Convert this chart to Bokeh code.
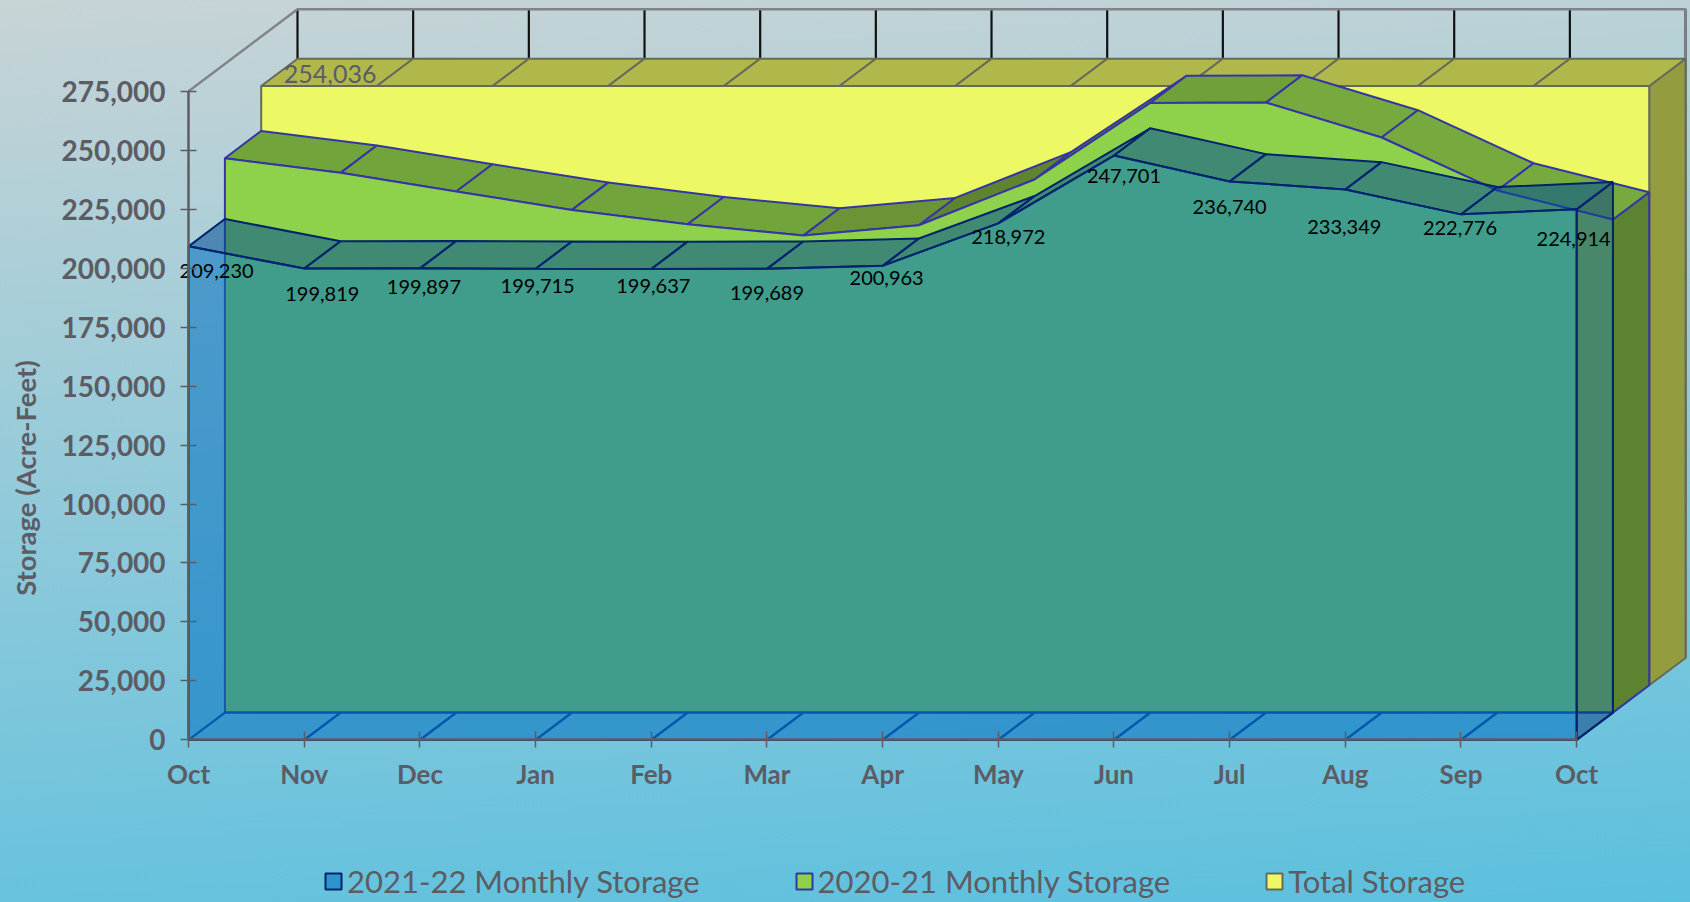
import math
from bokeh.plotting import figure
from bokeh.models import LinearAxis, FixedTicker, NumeralTickFormatter, Legend, LegendItem, Label
from bokeh.core.properties import value
from bokeh.embed import file_html
from bokeh.resources import INLINE

months = ["Oct", "Nov", "Dec", "Jan", "Feb", "Mar", "Apr", "May", "Jun", "Jul", "Aug", "Sep", "Oct"]
storage_2021_22 = [209230, 199819, 199897, 199715, 199637, 199689, 200963, 218972, 247701, 236740, 233349, 222776, 224914]
storage_2020_21 = [235000, 228800, 220900, 213100, 207000, 202200, 206600, 226000, 258400, 258600, 243800, 221300, 209000]
total_storage = [254036] * 13
y_ticks = list(range(0, 275001, 25000))
y_top = 275000

# screen layout of the plot area
W, H = 1690, 902
PX_X0, PX_DX = 188.1, 115.67      # pixel of first month, pixels per month
PX_Y0, PX_PER = 739.4, 0.002359   # pixel of zero, pixels per acre-foot
DEPTH_X, DEPTH_Y = 36.3 / PX_DX, 27.3 / PX_PER  # one depth step of the pseudo-3D box

x_range = (-PX_X0 / PX_DX, (W - PX_X0) / PX_DX)
y_range = ((PX_Y0 - H) / PX_PER, PX_Y0 / PX_PER)

GREY = "#5c5c64"
LABEL_FONT = value("Lato")

p = figure(width=W, height=H, x_range=x_range, y_range=y_range, output_backend="svg",
           toolbar_location=None, x_axis_location=None, y_axis_location=None,
           min_border=0, outline_line_color=None, background_fill_alpha=0, border_fill_alpha=0)
p.grid.visible = False
p.styles = {"position": "absolute", "left": "0px", "top": "0px",
            "background": "linear-gradient(176deg, #c8d4d6 0%, #5bc0de 100%)"}


def pt(i, v, d):
    return i + d * DEPTH_X, v + d * DEPTH_Y


def strips(vals, d):
    xs, ys = [], []
    for i in range(len(vals) - 1):
        a = pt(i, vals[i], d); b = pt(i + 1, vals[i + 1], d)
        c = pt(i + 1, vals[i + 1], d + 1); e = pt(i, vals[i], d + 1)
        xs.append([a[0], b[0], c[0], e[0]]); ys.append([a[1], b[1], c[1], e[1]])
    return xs, ys


def front(vals, d):
    n = len(vals)
    xs = [i + d * DEPTH_X for i in range(n)] + [n - 1 + d * DEPTH_X, d * DEPTH_X]
    ys = [v + d * DEPTH_Y for v in vals] + [d * DEPTH_Y, d * DEPTH_Y]
    return xs, ys


def end_face(vals, d):
    n = len(vals) - 1
    a = pt(n, vals[-1], d); b = pt(n, vals[-1], d + 1); c = pt(n, 0, d + 1); e = pt(n, 0, d)
    return [a[0], b[0], c[0], e[0]], [a[1], b[1], c[1], e[1]]


# back wall
for i in range(13):
    a = pt(i, 0, 3); b = pt(i, y_top, 3)
    p.line([a[0], b[0]], [a[1], b[1]], line_color="#111111", line_width=2.2)
a = pt(0, y_top, 0); b = pt(0, y_top, 3); c = pt(12, y_top, 3); e = pt(12, 0, 3)
p.line([a[0], b[0], c[0], e[0]], [a[1], b[1], c[1], e[1]], line_color="#808488", line_width=2.5)

# total storage
YL = "#666a5c"
xs, ys = end_face(total_storage, 2)
p.patch(xs, ys, fill_color="#949c40", line_color=YL, line_width=2)
xs, ys = strips(total_storage, 2)
p.patches(xs, ys, fill_color="#b0b84c", line_color=YL, line_width=2)
xs, ys = front(total_storage, 2)
r_total = p.patch(xs, ys, fill_color="#ecf864", line_color=YL, line_width=2)

# 2020-21
GL = "#3535a5"
green_strip = ["#72a43c", "#72a43c", "#72a43c", "#72a43c", "#72a43c", "#6a9436",
               "#5e8430", "#5a7c2e", "#70a03a", "#76aa3e", "#76aa3e", "#76aa3e"]
xs, ys = end_face(storage_2020_21, 1)
p.patch(xs, ys, fill_color="#5c8430", line_color=GL, line_width=2)
xs, ys = strips(storage_2020_21, 1)
p.patches(xs, ys, fill_color=green_strip, line_color=GL, line_width=2)
xs, ys = front(storage_2020_21, 1)
r_green = p.patch(xs, ys, fill_color="#8ed24c", line_color=GL, line_width=2)

# 2021-22
BL = "#00246c"
BLUE_A = 0.55
xs, ys = strips([0] * 13, 0)
p.patches(xs, ys, fill_alpha=0, line_color="#003c98", line_width=2)
xs, ys = end_face(storage_2021_22, 0)
p.patch(xs, ys, fill_color="#114885", fill_alpha=BLUE_A, line_color=BL, line_width=2)
xs, ys = strips(storage_2021_22, 0)
p.patches(xs, ys, fill_color="#004f95", fill_alpha=BLUE_A, line_color=BL, line_width=2)
xs, ys = front(storage_2021_22, 0)
r_blue = p.patch(xs, ys, fill_color="#0070c0", fill_alpha=BLUE_A, line_color=BL, line_width=2)

# data labels
dx_px = [28, 18, 4, 2, 2, 0, 4, 10, 10, 0, -1, -1, -3]
dy_px = [25, 25, 19, 17, 17, 24, 12, 14, 20, 26, 38, 14, 30]
p.text(list(range(13)), storage_2021_22, text=[f"{v:,}" for v in storage_2021_22],
       x_offset=dx_px, y_offset=dy_px, text_align="center", text_baseline="middle",
       text_font=LABEL_FONT, text_font_size="20px", text_color="#000000")
tx, ty = pt(0, total_storage[0], 2)
p.text([tx], [ty], text=[f"{total_storage[0]:,}"], x_offset=[69], y_offset=[-12],
       text_align="center", text_baseline="middle", text_font=LABEL_FONT,
       text_font_size="25px", text_color=GREY)

# axes
yax = LinearAxis(fixed_location=0, bounds=(0, y_top), ticker=FixedTicker(ticks=y_ticks),
                 formatter=NumeralTickFormatter(format="0,0"))
xax = LinearAxis(fixed_location=0, bounds=(0, 12), ticker=FixedTicker(ticks=list(range(13))),
                 major_label_overrides={i: m for i, m in enumerate(months)})
for ax in (xax, yax):
    ax.axis_line_color = GREY
    ax.axis_line_width = 2.5
    ax.major_tick_line_color = GREY
    ax.major_tick_line_width = 1.5
    ax.major_tick_in = 8
    ax.major_tick_out = 8
    ax.minor_tick_line_color = None
    ax.major_label_text_font = "Lato"
    ax.major_label_text_font_style = "bold"
    ax.major_label_text_font_size = "26px"
    ax.major_label_text_color = GREY
yax.major_label_text_font_size = "28px"
xax.major_label_standoff = 10
yax.major_label_standoff = 15
p.add_layout(xax, "below")
p.add_layout(yax, "left")

p.add_layout(Label(x=25, y=H - 477.5, x_units="screen", y_units="screen", text="Storage (Acre-Feet)",
                   angle=math.pi / 2, text_align="center", text_baseline="middle",
                   text_font="Lato", text_font_style="bold", text_font_size="27.5px", text_color=GREY))

# legend
legend = Legend(items=[LegendItem(label="2021-22 Monthly Storage", renderers=[r_blue]),
                       LegendItem(label="2020-21 Monthly Storage", renderers=[r_green]),
                       LegendItem(label="Total Storage", renderers=[r_total])],
                orientation="horizontal", location=(323, 2), background_fill_alpha=0,
                border_line_color=None, margin=0, padding=0, spacing=94,
                glyph_width=20, glyph_height=20, label_standoff=4,
                label_text_font="Lato", label_text_font_size="31px", label_text_color=GREY,
                label_height=34)
p.add_layout(legend, "center")

open("out.html", "w").write(file_html(p, INLINE))
